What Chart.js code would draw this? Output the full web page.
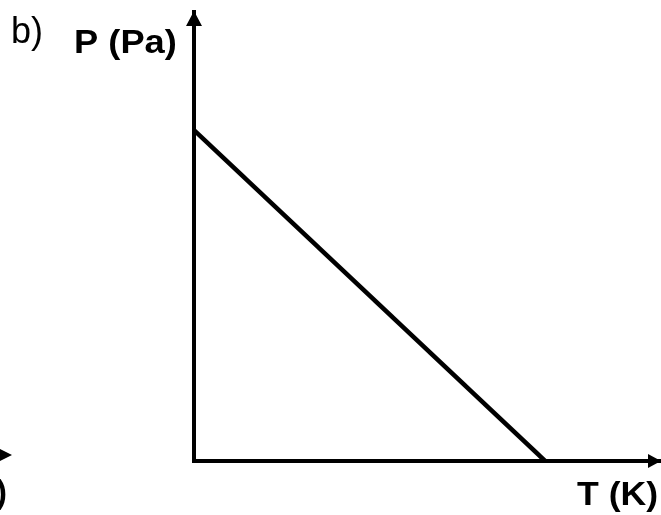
<!DOCTYPE html>
<html>
<head>
<meta charset="utf-8">
<script src="https://cdn.jsdelivr.net/npm/chart.js@4.4.1/dist/chart.umd.min.js"></script>
<style>
    html, body { margin: 0; padding: 0; background: #fff; }
    #wrap { width: 661px; height: 515px; }
</style>
</head>
<body>
<div id="wrap"><canvas id="pt-chart" width="661" height="515"></canvas></div>
<script>
// data: pressure falls linearly with temperature
const temps = [0, 100];
const pressures = [100, 0];
const xLabel = "T (K)";
const yLabel = "P (Pa)";
const partLabel = "b)";

let points = temps.map((t, i) => ({ x: t, y: pressures[i] }));

const FONT = "'Liberation Sans', Arial, sans-serif";

// slightly widened bold text, like the scanned figure
function wideText(ctx, text, x, y, sx) {
    ctx.save();
    ctx.translate(x, y);
    ctx.scale(sx, 1);
    ctx.fillText(text, 0, 0);
    ctx.restore();
}

// arrows and labels drawn after the chart
let axisDecor = {
    id: "axisDecor",
    afterDraw: function(chart) {
        let { ctx, chartArea } = chart;
        let left = chartArea.left, bottom = chartArea.bottom;
        ctx.save();
        ctx.fillStyle = "#000";

        // y arrow
        ctx.beginPath();
        ctx.moveTo(left, 11);
        ctx.lineTo(left - 8, 26);
        ctx.lineTo(left + 8, 26);
        ctx.closePath();
        ctx.fill();

        // x arrow
        ctx.beginPath();
        ctx.moveTo(661, bottom);
        ctx.lineTo(648, bottom - 7);
        ctx.lineTo(648, bottom + 7);
        ctx.closePath();
        ctx.fill();

        // leftover arrow from the neighbouring figure
        ctx.beginPath();
        ctx.moveTo(12, 455);
        ctx.lineTo(-2, 448);
        ctx.lineTo(-2, 462);
        ctx.closePath();
        ctx.fill();

        ctx.textBaseline = "alphabetic";
        ctx.textAlign = "left";
        ctx.font = "36px " + FONT;
        ctx.fillText(partLabel, 11, 43);

        ctx.font = "bold 33px " + FONT;
        wideText(ctx, yLabel, 74, 53, 1.1);
        wideText(ctx, xLabel, 577, 505, 1.08);

        ctx.textAlign = "right";
        ctx.fillText(")", 7, 503);
        ctx.restore();
    }
};

new Chart(document.getElementById("pt-chart"), {
    type: "line",
    data: {
        datasets: [{
            data: points,
            borderColor: "#000",
            borderWidth: 4.5,
            pointRadius: 0,
            tension: 0
        }]
    },
    options: {
        responsive: false,
        animation: false,
        layout: { padding: { left: 194, top: 12, right: 0, bottom: 54 } },
        scales: {
            x: {
                type: "linear",
                min: 0,
                max: 133,
                grid: { display: false, drawTicks: false },
                ticks: { display: false },
                border: { display: true, color: "#000", width: 4 }
            },
            y: {
                min: 0,
                max: 135.7,
                grid: { display: false, drawTicks: false },
                ticks: { display: false },
                border: { display: true, color: "#000", width: 4 }
            }
        },
        plugins: {
            legend: { display: false },
            tooltip: { enabled: false }
        }
    },
    plugins: [axisDecor]
});
</script>
</body>
</html>
